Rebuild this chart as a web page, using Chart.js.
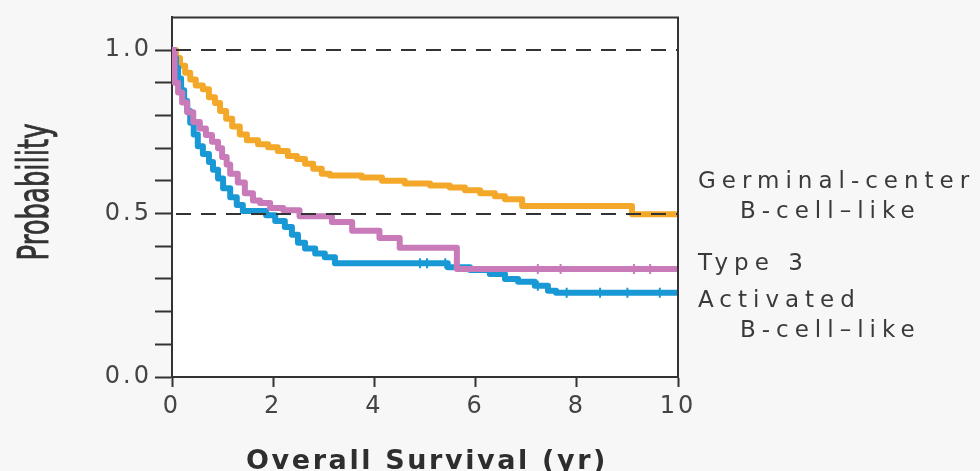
<!DOCTYPE html>
<html>
<head>
<meta charset="utf-8">
<script src="https://cdn.jsdelivr.net/npm/chart.js@4/dist/chart.umd.min.js"></script>
<style>
  body { margin: 0; background: #f7f7f7; }
  #wrap { width: 980px; height: 471px; position: relative; }
</style>
</head>
<body>
<div id="wrap"><canvas id="km"></canvas></div>
<script>
// Kaplan-Meier curves (time in years, survival probability)
const gcbTime = [0, 0.08, 0.16, 0.26, 0.36, 0.47, 0.61, 0.73, 0.85, 0.95, 1.07, 1.19, 1.34, 1.48, 1.70, 1.90, 2.09, 2.29, 2.47, 2.63, 2.79, 2.96, 3.12, 3.75, 4.15, 4.6, 5.1, 5.49, 5.79, 6.09, 6.38, 6.58, 6.92, 9.09, 10];
const gcbSurv = [1.0, 0.976, 0.952, 0.931, 0.91, 0.892, 0.88, 0.856, 0.838, 0.814, 0.79, 0.766, 0.742, 0.724, 0.712, 0.703, 0.691, 0.676, 0.667, 0.652, 0.637, 0.622, 0.616, 0.61, 0.60, 0.592, 0.586, 0.58, 0.571, 0.562, 0.553, 0.544, 0.523, 0.498, 0.498];

const type3Time = [0, 0.05, 0.12, 0.2, 0.3, 0.42, 0.55, 0.67, 0.79, 0.91, 0.99, 1.08, 1.15, 1.3, 1.44, 1.6, 1.74, 1.94, 2.2, 2.52, 3.16, 3.56, 4.1, 4.5, 5.63, 10];
const type3Surv = [1.0, 0.90, 0.87, 0.84, 0.81, 0.78, 0.76, 0.74, 0.72, 0.70, 0.673, 0.65, 0.622, 0.595, 0.562, 0.54, 0.532, 0.517, 0.51, 0.492, 0.474, 0.447, 0.425, 0.395, 0.33, 0.33];

const abcTime = [0, 0.04, 0.08, 0.12, 0.18, 0.24, 0.30, 0.36, 0.43, 0.51, 0.61, 0.73, 0.81, 0.91, 1.01, 1.15, 1.28, 1.40, 1.86, 2.04, 2.23, 2.37, 2.49, 2.63, 2.83, 3.02, 3.22, 5.45, 5.89, 6.28, 6.58, 6.84, 7.17, 7.43, 7.59, 10];
const abcSurv = [1.0, 0.976, 0.946, 0.913, 0.877, 0.844, 0.814, 0.778, 0.742, 0.706, 0.682, 0.658, 0.634, 0.607, 0.577, 0.55, 0.526, 0.508, 0.495, 0.477, 0.459, 0.435, 0.411, 0.393, 0.378, 0.366, 0.348, 0.336, 0.327, 0.315, 0.30, 0.291, 0.279, 0.264, 0.258, 0.258];

// censored observations (tick marks)
const type3CensorTime = [7.23, 7.68, 9.13, 9.45];
const type3CensorSurv = [0.33, 0.33, 0.33, 0.33];
const abcCensorTime = [4.9, 5.04, 5.4, 7.23, 7.8, 8.46, 9.0, 9.64];
const abcCensorSurv = [0.348, 0.348, 0.348, 0.279, 0.258, 0.258, 0.258, 0.258];

const xTicks = [0, 2, 4, 6, 8, 10];
const yTicks = [0, 0.1, 0.2, 0.3, 0.4, 0.5, 0.6, 0.7, 0.8, 0.9, 1.0];
const yLabelled = [0, 0.5, 1.0];
const yDashed = [0.5, 1.0];

const xTitle = 'Overall Survival (yr)';
const yTitle = 'Probability';
const groupLabels = [
    ['Germinal-center', 'B-cell\u2013like'],
    ['Type 3'],
    ['Activated', 'B-cell\u2013like']
];

const ORANGE = '#f4a82a';
const PINK = '#c87ab9';
const BLUE = '#1898d5';
const INK = '#333333';

function toPoints(xs, ys) {
    return xs.map((x, i) => ({ x: x, y: ys[i] }));
}

function curve(label, xs, ys, color) {
    return {
        label: label,
        data: toPoints(xs, ys),
        borderColor: color,
        borderWidth: 6,
        stepped: true,
        pointRadius: 0,
        borderJoinStyle: 'round',
        fill: false
    };
}

function censors(xs, ys, color) {
    return {
        data: toPoints(xs, ys),
        showLine: false,
        pointStyle: 'line',
        rotation: 90,
        pointRadius: 5,
        pointBorderWidth: 2,
        borderColor: color,
        pointBorderColor: color
    };
}

// draws text so that it spans a given width by spreading the letters
function spreadText(ctx, text, x, y, targetWidth) {
    ctx.letterSpacing = '0px';
    const w = ctx.measureText(text).width;
    const gap = Math.max(0, (targetWidth - w) / text.length);
    ctx.letterSpacing = gap.toFixed(2) + 'px';
    ctx.fillText(text, x, y);
}

// background, frame, dashed reference lines and hand-placed text
const framePlugin = {
    id: 'framePlugin',
    beforeDraw(chart) {
        const { ctx, chartArea: a, width, height } = chart;
        ctx.save();
        ctx.fillStyle = '#f7f7f7';
        ctx.fillRect(0, 0, width, height);
        ctx.fillStyle = '#ffffff';
        ctx.fillRect(a.left, a.top, a.right - a.left, a.bottom - a.top);
        ctx.restore();
        ctx.letterSpacing = '3px';
    },
    afterDatasetsDraw(chart) {
        const { ctx, chartArea: a } = chart;
        const yScale = chart.scales.y;
        ctx.save();
        ctx.strokeStyle = INK;
        ctx.lineWidth = 2;
        ctx.setLineDash([15, 10]);
        yDashed.forEach(v => {
            const py = Math.round(yScale.getPixelForValue(v));
            ctx.beginPath();
            ctx.moveTo(a.left + 4, py);
            ctx.lineTo(a.right, py);
            ctx.stroke();
        });
        ctx.restore();
    },
    afterDraw(chart) {
        const { ctx, chartArea: a } = chart;
        ctx.save();
        ctx.strokeStyle = INK;
        ctx.lineWidth = 2;
        ctx.setLineDash([]);
        ctx.beginPath();
        ctx.moveTo(a.left, a.top);
        ctx.lineTo(a.right, a.top);
        ctx.lineTo(a.right, a.bottom);
        ctx.stroke();

        // x title
        ctx.fillStyle = '#2e2e2e';
        ctx.font = 'bold 27px "DejaVu Sans"';
        ctx.textAlign = 'left';
        ctx.textBaseline = 'alphabetic';
        spreadText(ctx, xTitle, 246, 469, 362);

        // y title, condensed
        ctx.save();
        ctx.letterSpacing = '0px';
        ctx.fillStyle = '#333';
        ctx.strokeStyle = '#333';
        ctx.lineWidth = 0.9;
        ctx.font = '42px "Liberation Sans Narrow", "DejaVu Sans Condensed", sans-serif';
        ctx.textAlign = 'center';
        const w = ctx.measureText(yTitle).width;
        ctx.translate(48, 192);
        ctx.rotate(-Math.PI / 2);
        ctx.scale(137 / w, 1);
        ctx.fillText(yTitle, 0, 0);
        ctx.strokeText(yTitle, 0, 0);
        ctx.restore();

        // group labels at the right
        ctx.fillStyle = '#3a3a3a';
        ctx.font = '23px "DejaVu Sans"';
        ctx.textAlign = 'left';
        ctx.letterSpacing = '6px';
        const x0 = a.right + 20;
        const blockTop = [188, 270, 307];
        groupLabels.forEach((lines, i) => {
            lines.forEach((t, j) => {
                ctx.fillText(t, x0 + (j > 0 ? 42 : 0), blockTop[i] + j * 30);
            });
        });
        ctx.restore();
        ctx.letterSpacing = '0px';
    }
};

new Chart(document.getElementById('km'), {
    type: 'line',
    data: {
        datasets: [
            curve('Type 3', type3Time, type3Surv, PINK),
            curve('Activated B-cell-like', abcTime, abcSurv, BLUE),
            curve('Germinal-center B-cell-like', gcbTime, gcbSurv, ORANGE),
            censors(type3CensorTime, type3CensorSurv, PINK),
            censors(abcCensorTime, abcCensorSurv, BLUE)
        ]
    },
    options: {
        responsive: true,
        maintainAspectRatio: false,
        animation: false,
        layout: { padding: { left: 0, right: 302, top: 12, bottom: 0 } },
        plugins: { legend: { display: false }, tooltip: { enabled: false } },
        scales: {
            x: {
                type: 'linear',
                min: 0,
                max: 10,
                afterBuildTicks: s => { s.ticks = xTicks.map(v => ({ value: v })); },
                afterFit: s => { s.height = 94; },
                ticks: {
                    autoSkip: false,
                    maxRotation: 0,
                    padding: 5,
                    color: '#444',
                    font: { family: 'DejaVu Sans', size: 24 }
                },
                grid: {
                    drawOnChartArea: false,
                    color: INK,
                    tickColor: INK,
                    tickLength: 10,
                    tickWidth: 2
                },
                border: { color: INK, width: 2 }
            },
            y: {
                min: 0,
                max: 1.1,
                afterBuildTicks: s => { s.ticks = yTicks.map(v => ({ value: v })); },
                afterFit: s => { s.width = 172; },
                ticks: {
                    autoSkip: false,
                    padding: 3,
                    color: '#444',
                    font: { family: 'DejaVu Sans', size: 24 },
                    callback: v => (yLabelled.includes(v) ? v.toFixed(1) : '')
                },
                grid: {
                    drawOnChartArea: false,
                    color: INK,
                    tickColor: INK,
                    tickLength: 17,
                    tickWidth: 2
                },
                border: { color: INK, width: 2 }
            }
        }
    },
    plugins: [framePlugin]
});
</script>
</body>
</html>
